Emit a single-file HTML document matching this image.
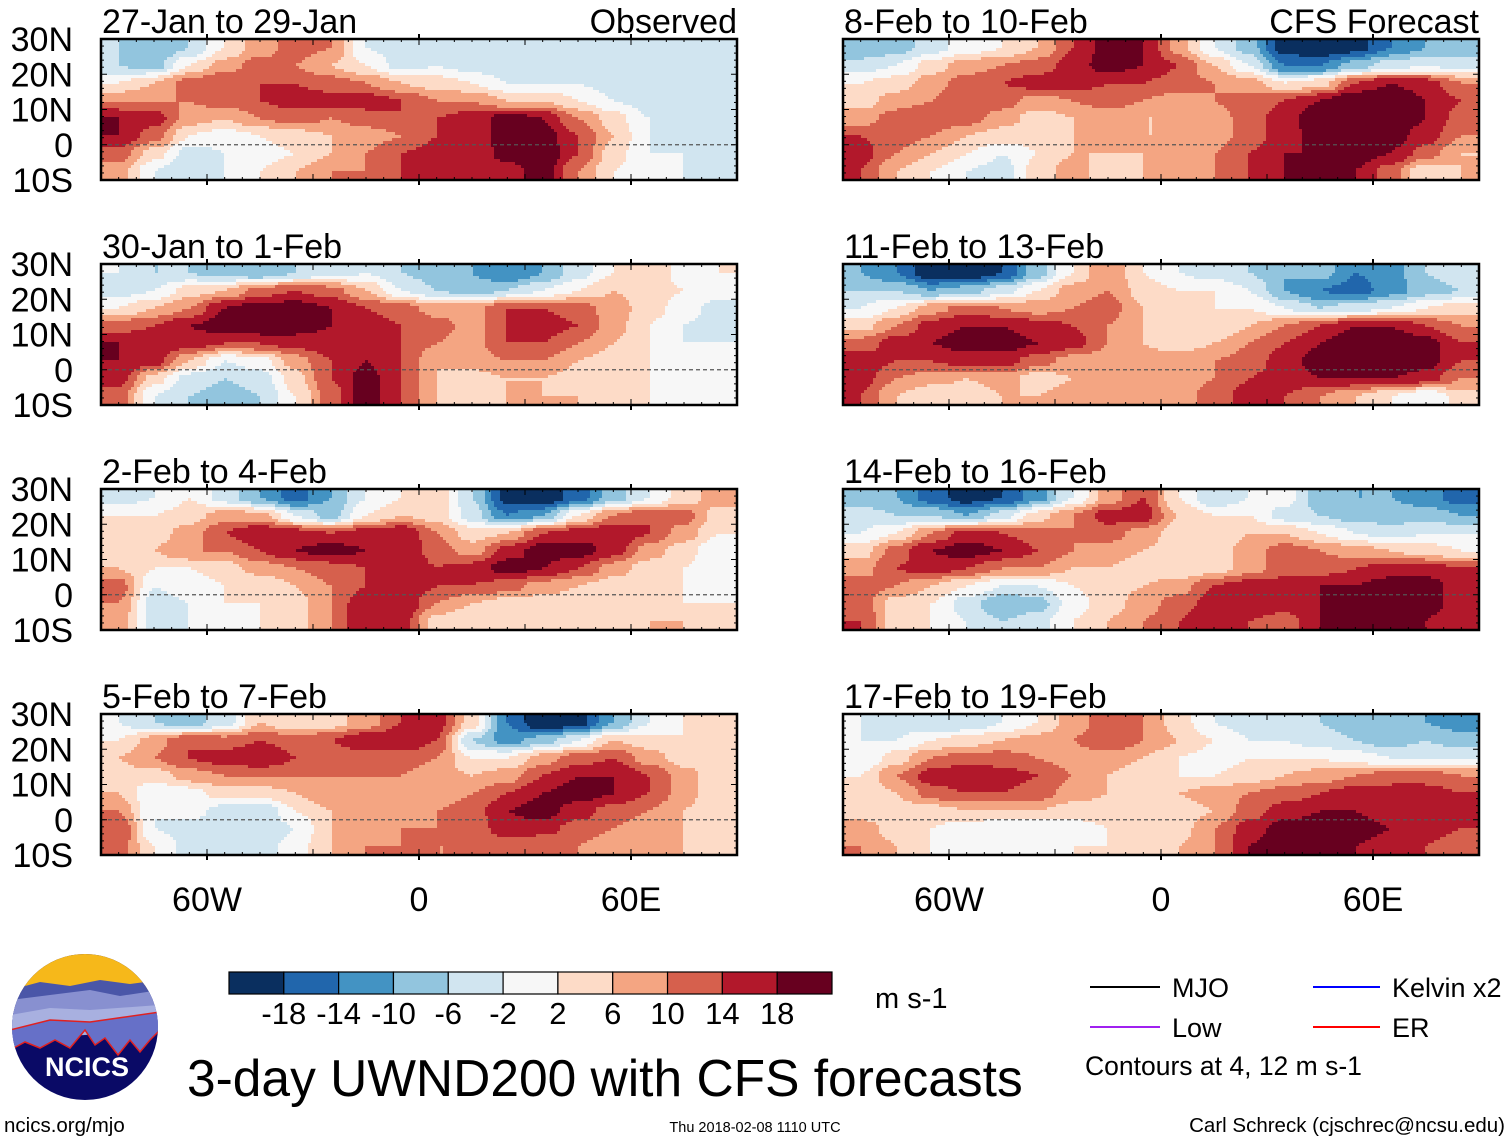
<!DOCTYPE html>
<html><head><meta charset="utf-8">
<style>
html,body{margin:0;padding:0;background:#fff;}
svg{display:block;font-family:"Liberation Sans",Arial,sans-serif;}
</style></head>
<body>
<svg id="chart" width="1510" height="1142" viewBox="0 0 1510 1142" xmlns="http://www.w3.org/2000/svg">
<defs>
<clipPath id="logoclip"><circle cx="85" cy="1027" r="73"/></clipPath>
</defs>
<g id="panels"></g>

<g id="colorbar"></g>
<text x="875" y="1008" font-size="29">m s-1</text>

<text x="187" y="1096" font-size="51.5">3-day UWND200 with CFS forecasts</text>

<g>
<line x1="1090" y1="987" x2="1160" y2="987" stroke="#000" stroke-width="2"/>
<text x="1172" y="997" font-size="27">MJO</text>
<line x1="1313" y1="987" x2="1380" y2="987" stroke="#0000ff" stroke-width="2"/>
<text x="1392" y="997" font-size="27">Kelvin x2</text>
<line x1="1090" y1="1027" x2="1160" y2="1027" stroke="#a020f0" stroke-width="2"/>
<text x="1172" y="1037" font-size="27">Low</text>
<line x1="1313" y1="1027" x2="1380" y2="1027" stroke="#ff0000" stroke-width="2"/>
<text x="1392" y="1037" font-size="27">ER</text>
<text x="1085" y="1075" font-size="26.5">Contours at 4, 12 m s-1</text>
</g>

<g clip-path="url(#logoclip)">
<rect x="10" y="950" width="150" height="160" fill="#0a0a66"/>
<rect x="10" y="950" width="150" height="40" fill="#f6b81a"/>
<path d="M10 990 L40 982 L70 986 L100 980 L130 984 L160 980 L160 1000 L10 1005Z" fill="#4a56a8"/>
<path d="M10 1000 L50 995 L90 990 L120 996 L160 990 L160 1020 L10 1025Z" fill="#8890d0"/>
<path d="M10 1015 L50 1008 L90 1010 L160 1005 L160 1030 L10 1040Z" fill="#a8b0e0"/>
<path d="M10 1030 L50 1020 L90 1022 L160 1012 L160 1030 L150 1040 L140 1052 L130 1040 L118 1055 L105 1038 L95 1045 L85 1030 L70 1048 L55 1040 L40 1048 L25 1042 L10 1050Z" fill="#6670c8" stroke="#e02020" stroke-width="1.5"/>
</g>
<text x="87" y="1076" font-size="27" font-weight="bold" fill="#fff" text-anchor="middle">NCICS</text>

<text x="4" y="1132" font-size="20.5">ncics.org/mjo</text>
<text x="755" y="1132" font-size="14.5" text-anchor="middle">Thu 2018-02-08 1110 UTC</text>
<text x="1505" y="1132" font-size="20.5" text-anchor="end">Carl Schreck (cjschrec@ncsu.edu)</text>
</svg>

<script>
// ---- data ----
const lonCenters = [-85,-75,-65,-55,-45,-35,-25,-15,-5,5,15,25,35,45,55,65,75,85];
const latCenters = [27.5,22.5,17.5,12.5,7.5,2.5,-2.5,-7.5];
const latTicks = ["30N","20N","10N","0","10S"];
const latTickVals = [30,20,10,0,-10];
const lonTicks = ["60W","0","60E"];
const lonTickVals = [-60,0,60];
const levels = [-18,-14,-10,-6,-2,2,6,10,14,18];
const levelLabels = ["-18","-14","-10","-6","-2","2","6","10","14","18"];
const palette = ["#0a2f5f","#2166ac","#4393c3","#92c5de","#d1e5f0","#f7f7f7","#fddbc7","#f4a582","#d6604d","#b2182b","#67001f"];
const panelTitles = ["27-Jan to 29-Jan","8-Feb to 10-Feb","30-Jan to 1-Feb","11-Feb to 13-Feb","2-Feb to 4-Feb","14-Feb to 16-Feb","5-Feb to 7-Feb","17-Feb to 19-Feb"];

const field0 = [
[-6,-10,-6,2,8,12,10,-2,-4,-2,-4,-6,-2,-4,-2,-4,-6,-6],
[-6,-8,2,8,12,10,6,2,-4,-2,-4,-6,-4,-4,-4,-6,-6,-6],
[2,6,12,14,14,14,12,10,6,4,2,-2,-2,-2,-4,-6,-4,-6],
[10,10,10,12,14,16,16,16,14,10,10,6,6,2,-2,-4,-4,-6],
[18,16,8,6,10,12,10,12,14,14,16,20,18,10,4,-2,-4,-4],
[18,12,2,0,2,4,6,8,10,14,16,20,20,14,6,-2,-4,-4],
[12,4,-4,-2,0,2,6,10,14,16,14,20,22,14,4,-2,-2,-4],
[8,-2,-6,-2,2,6,10,10,14,18,14,16,20,10,2,0,-2,-4]];
const field1 = [
[-10,-8,-4,0,2,6,14,20,18,8,-2,-8,-20,-22,-20,-14,-10,-8],
[-4,-2,4,8,10,12,16,20,18,14,6,-2,-14,-14,-8,-4,-2,-4],
[2,4,8,12,14,16,16,14,14,12,10,8,2,4,14,18,16,10],
[4,8,10,14,12,8,10,12,10,8,10,12,14,18,22,22,18,14],
[8,12,14,12,8,4,6,8,6,6,8,12,16,22,24,22,18,12],
[14,12,10,6,4,4,6,6,6,6,8,12,16,20,22,20,16,10],
[16,10,6,2,-2,2,6,6,6,8,10,14,18,18,20,18,12,6],
[14,6,2,-2,-4,4,8,4,6,8,10,14,18,20,18,12,2,6]];
const field2 = [
[-2,-6,-6,-8,-10,-6,-4,-2,-6,-8,-10,-14,-10,-4,2,6,0,2],
[-4,-2,4,6,12,14,12,6,-2,-6,-8,-6,-2,2,6,4,2,0],
[2,6,10,18,20,20,18,14,12,8,8,14,14,12,8,4,0,-4],
[12,14,18,20,22,20,18,16,14,12,8,14,16,14,8,2,-2,-4],
[18,18,16,14,14,16,16,18,14,10,8,14,14,10,6,2,-2,-2],
[18,16,6,-2,0,8,14,18,14,6,8,10,10,6,4,2,-2,-2],
[16,4,-4,-6,-4,4,14,20,14,6,4,6,6,4,2,2,-2,-2],
[12,-2,-6,-8,-6,2,12,20,14,6,4,6,6,6,4,2,-2,-2]];
const field3 = [
[-10,-14,-22,-22,-18,-8,2,10,2,-2,-4,-6,-10,-8,-14,-12,-6,-4],
[-6,-6,-10,-8,-4,2,8,10,4,2,2,-2,-10,-14,-16,-12,-8,-6],
[-2,2,8,12,10,8,10,12,6,2,2,2,-2,-6,-4,-2,2,4],
[4,10,16,18,18,16,14,10,6,2,2,6,10,14,18,18,14,10],
[12,16,18,20,20,18,16,10,6,4,6,10,14,18,22,22,20,14],
[16,14,14,16,16,12,8,8,8,8,10,12,16,20,22,22,20,14],
[16,10,8,6,8,4,6,8,8,8,10,14,16,18,18,18,16,10],
[14,6,2,2,6,6,8,8,8,8,12,16,14,10,6,2,-2,4]];
const field4 = [
[-4,-2,2,-4,-10,-16,-10,-2,2,6,-6,-20,-22,-16,-8,-2,4,8],
[2,2,4,8,8,-2,-8,2,6,4,-4,-14,-10,2,10,14,12,4],
[4,4,8,14,18,16,14,16,18,10,4,6,14,16,18,14,8,2],
[2,6,10,10,14,18,20,18,18,12,8,16,20,20,16,8,4,-2],
[6,2,2,4,8,10,12,14,18,14,16,20,18,14,8,4,2,-2],
[12,-2,0,2,2,6,10,14,18,14,14,12,8,6,4,4,2,-2],
[10,-4,-2,2,2,4,10,18,18,10,6,4,4,4,4,2,2,2],
[8,-4,-2,0,2,4,10,18,16,4,2,4,6,4,4,6,6,2]];
const field5 = [
[-8,-10,-16,-20,-18,-12,-2,8,14,2,-6,-2,0,-8,-10,-10,-12,-16],
[-4,-6,-6,-10,-4,4,10,16,16,6,2,2,-4,-6,-8,-8,-8,-10],
[-2,2,10,16,14,12,10,12,8,4,2,6,6,2,-2,-4,-2,-2],
[4,12,18,20,18,14,10,8,6,4,4,8,12,10,8,6,4,2],
[8,14,16,14,10,10,6,6,4,2,4,8,12,12,14,16,16,14],
[12,10,6,2,-2,-2,2,4,6,8,14,16,16,18,18,20,20,16],
[12,4,2,-4,-10,-8,0,4,8,12,16,18,16,18,20,22,20,16],
[14,4,2,-2,-6,-4,2,6,10,14,18,14,12,18,22,22,18,14]];
const field6 = [
[-2,-6,-8,-4,6,2,4,8,14,16,4,-14,-22,-20,-10,-2,2,4],
[2,8,14,12,14,12,14,18,18,14,-6,-12,-8,-2,6,4,2,2],
[6,10,14,16,18,14,10,12,12,10,2,2,8,12,14,8,4,2],
[4,4,8,10,10,10,10,10,10,8,6,8,14,18,18,14,8,2],
[6,-2,0,4,4,6,10,6,8,8,10,14,18,20,18,14,8,2],
[10,-2,0,-4,-6,2,6,6,8,10,12,18,20,16,12,10,6,2],
[14,-2,-4,-6,-6,-2,6,8,10,10,12,16,16,12,10,8,6,4],
[12,2,-4,-6,-4,0,6,10,10,10,10,12,10,10,8,6,6,4]];
const field7 = [
[-2,-4,-6,-6,-2,2,8,12,10,4,-2,-4,-4,-6,-8,-10,-10,-12],
[-2,-2,2,4,6,8,10,14,10,6,2,-2,-2,-4,-6,-8,-6,-8],
[-2,4,10,12,12,10,8,8,6,2,0,2,2,2,0,-2,-2,-2],
[2,10,16,18,16,14,10,6,4,2,2,4,6,8,10,12,12,10],
[2,6,12,14,14,12,8,6,6,6,8,10,12,14,16,16,16,14],
[4,4,4,6,6,6,4,4,4,4,6,12,16,18,18,16,16,14],
[8,4,2,0,-2,-2,0,2,2,4,10,16,20,20,20,18,16,14],
[10,6,2,0,-2,0,2,2,4,6,10,18,22,22,18,16,14,12]];
const fields = [field0,field1,field2,field3,field4,field5,field6,field7];

// ---- layout ----
const NS = "http://www.w3.org/2000/svg";
const colX = [101, 843], PW = 636, rowY = [39, 264, 489, 714], PH = 141;
const STEP = 3;
function colorIdx(v){ let i=0; while(i<levels.length && v>=levels[i]) i++; return i; }
function mk(tag, attrs, parent){ const e=document.createElementNS(NS,tag); for(const k in attrs) e.setAttribute(k,attrs[k]); parent.appendChild(e); return e; }
function smooth(t){ return t*t*(3-2*t); }
function sample(f, lon, lat){
  const nc = lonCenters.length, nr = latCenters.length;
  let cf = (lon - lonCenters[0]) / (lonCenters[1]-lonCenters[0]);
  let rf = (lat - latCenters[0]) / (latCenters[1]-latCenters[0]);
  cf = Math.max(0, Math.min(nc-1, cf)); rf = Math.max(0, Math.min(nr-1, rf));
  const c0 = Math.min(nc-2, Math.floor(cf)), r0 = Math.min(nr-2, Math.floor(rf));
  const tx = smooth(cf - c0), ty = smooth(rf - r0);
  const a = f[r0][c0]*(1-tx) + f[r0][c0+1]*tx;
  const b = f[r0+1][c0]*(1-tx) + f[r0+1][c0+1]*tx;
  return a*(1-ty) + b*ty;
}

const root = document.getElementById('panels');
fields.forEach((f, p) => {
  const x0 = colX[p%2], y0 = rowY[Math.floor(p/2)];
  const xs = lon => x0 + (lon + 90) / 180 * PW;
  const ys = lat => y0 + (30 - lat) / 40 * PH;
  const lonOf = x => (x - x0) / PW * 180 - 90;
  const latOf = y => 30 - (y - y0) / PH * 40;
  const g = mk('g', {}, root);
  
  
  const hg = mk('g', {'shape-rendering': 'crispEdges'}, g);
  
  
  for (let y = 0; y < PH; y += STEP) {
    const h = Math.min(STEP, PH - y);
    let runStart = 0, runIdx = -1;
    for (let x = 0; x <= PW; x += STEP) {
      const idx = x < PW ? colorIdx(sample(f, lonOf(x0 + x + STEP/2), latOf(y0 + y + h/2))) : -2;
      if (idx !== runIdx) {
        if (runIdx >= 0) {
          const cell = mk('rect', {x: x0 + runStart, y: y0 + y, width: Math.min(x, PW) - runStart, height: h, fill: palette[runIdx]}, hg);
          
          
        }
        runStart = x; runIdx = idx;
      }
    }
  }
  const eq = mk('line', {x1: x0, x2: x0 + PW, y1: ys(0), y2: ys(0), stroke: '#555', 'stroke-width': 1.2, 'stroke-dasharray': '4 3'}, g);
  
  
  const fr = mk('rect', {x: x0, y: y0, width: PW, height: PH, fill: 'none', stroke: '#000', 'stroke-width': 2.5}, g);
  
  
  for (let lon = -90; lon <= 90; lon += 5) {
    const len = (lon % 30 === 0) ? 6 : 3;
    mk('line', {x1: xs(lon), x2: xs(lon), y1: y0, y2: y0 + len, stroke: '#000', 'stroke-width': 1}, g);
    mk('line', {x1: xs(lon), x2: xs(lon), y1: y0 + PH, y2: y0 + PH - len, stroke: '#000', 'stroke-width': 1}, g);
  }
  lonTickVals.forEach(lon => {
    mk('line', {x1: xs(lon), x2: xs(lon), y1: y0 - 5, y2: y0, stroke: '#000', 'stroke-width': 2}, g);
    mk('line', {x1: xs(lon), x2: xs(lon), y1: y0 + PH, y2: y0 + PH + 5, stroke: '#000', 'stroke-width': 2}, g);
  });
  for (let lat = -10; lat <= 30; lat += 2) {
    const len = (lat % 10 === 0) ? 6 : 3;
    mk('line', {x1: x0, x2: x0 + len, y1: ys(lat), y2: ys(lat), stroke: '#000', 'stroke-width': 1}, g);
    mk('line', {x1: x0 + PW, x2: x0 + PW - len, y1: ys(lat), y2: ys(lat), stroke: '#000', 'stroke-width': 1}, g);
  }
  const t = mk('text', {x: x0 + 1, y: y0 - 6, 'font-size': 34}, g);
  t.textContent = panelTitles[p];
  
  
  if (p === 0 || p === 1) {
    const s = mk('text', {x: x0 + PW, y: y0 - 6, 'font-size': 34, 'text-anchor': 'end'}, g);
    s.textContent = p === 0 ? 'Observed' : 'CFS Forecast';
    
    
  }
  if (p % 2 === 0) {
    latTickVals.forEach((lat, i) => {
      const l = mk('text', {x: 73, y: ys(lat) + 12, 'font-size': 34, 'text-anchor': 'end'}, g);
      l.textContent = latTicks[i];
      
      
    });
  }
  if (p >= 6) {
    lonTickVals.forEach((lon, i) => {
      const l = mk('text', {x: xs(lon), y: 911, 'font-size': 34, 'text-anchor': 'middle'}, g);
      l.textContent = lonTicks[i];
      
      
    });
  }
});

const cb = document.getElementById('colorbar');
const cbX = 229, cbW = 603, cbY = 972, cbH = 22, bw = cbW / palette.length;
palette.forEach((c, i) => {
  const r = mk('rect', {x: cbX + i*bw, y: cbY, width: bw, height: cbH, fill: c, stroke: '#000', 'stroke-width': 1.2}, cb);
  
  
});
levelLabels.forEach((lab, i) => {
  const t = mk('text', {x: cbX + (i+1)*bw, y: 1024, 'font-size': 31, 'text-anchor': 'middle'}, cb);
  t.textContent = lab;
  
  
});
</script>
</body></html>
